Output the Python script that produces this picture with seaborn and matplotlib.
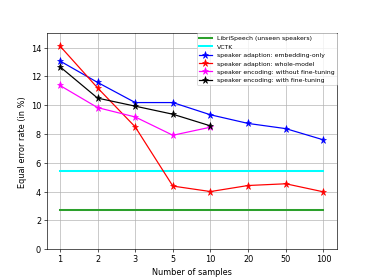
import numpy as np
import pandas as pd
import matplotlib
matplotlib.use("Agg")
import matplotlib.pyplot as plt
import seaborn as sns

samples = ["1", "2", "3", "5", "10", "20", "50", "100"]
librispeech = [2.70] * 8
vctk = [5.42] * 8
adapt_embedding = [13.07, 11.58, 10.18, 10.18, 9.33, 8.73, 8.37, 7.59]
adapt_whole = [14.11, 11.20, 8.49, 4.38, 4.00, 4.42, 4.54, 3.98]
enc_no_ft = [11.37, 9.83, 9.18, 7.91, 8.47]
enc_ft = [12.67, 10.49, 9.93, 9.37, 8.56]

plt.rcParams.update(plt.rcParamsDefault)
fig, ax = plt.subplots(figsize=(6.4, 4.8), dpi=374 / 6.4)

pos = np.arange(len(samples))

series = [
    ("LibriSpeech (unseen speakers)", librispeech, "#2ca02c", None, 2.5),
    ("VCTK", vctk, "cyan", None, 2.5),
    ("speaker adaption: embedding-only", adapt_embedding, "blue", "*", 1.5),
    ("speaker adaption: whole-model", adapt_whole, "red", "*", 1.5),
    ("speaker encoding: without fine-tuning", enc_no_ft, "magenta", "*", 1.5),
    ("speaker encoding: with fine-tuning", enc_ft, "black", "*", 1.5),
]

for label, vals, color, marker, lw in series:
    df = pd.DataFrame({"x": pos[:len(vals)], "y": vals})
    sns.lineplot(data=df, x="x", y="y", ax=ax, color=color, marker=marker,
                 markersize=9 if marker else None, markeredgecolor=color,
                 linewidth=lw, label=label)

ax.set_xticks(pos)
ax.set_xticklabels(samples)
ax.set_ylim(0, 15)
ax.set_yticks([0, 2, 4, 6, 8, 10, 12, 14])
ax.grid(True, color="#b0b0b0", linewidth=0.8)
ax.set_xlabel("Number of samples")
ax.set_ylabel("Equal error rate (in %)")
ax.legend(loc="upper right", fontsize=7.6, borderaxespad=0,
          framealpha=0.8, handlelength=2.0)

fig.savefig("out.png", dpi=374 / 6.4)
